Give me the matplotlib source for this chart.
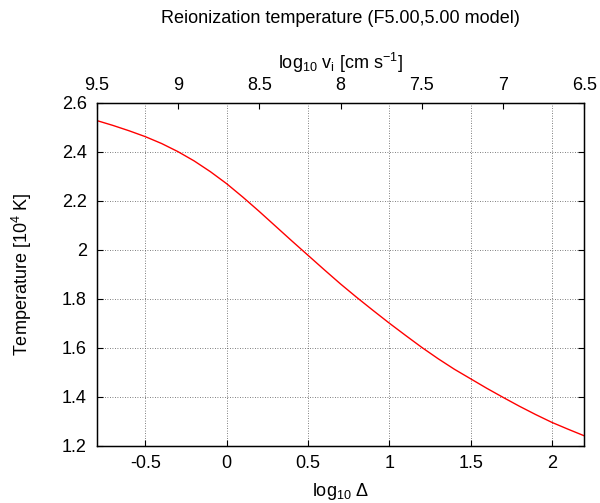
import numpy as np
import matplotlib
matplotlib.use('Agg')
import matplotlib.pyplot as plt

plt.rcParams['font.family'] = ['Liberation Sans', 'DejaVu Sans']
plt.rcParams['mathtext.fontset'] = 'custom'
plt.rcParams['mathtext.rm'] = 'Liberation Sans'
plt.rcParams['mathtext.it'] = 'Liberation Sans'
plt.rcParams['mathtext.default'] = 'regular'

# values
log_delta = [-0.8, -0.7, -0.6, -0.5, -0.4, -0.3, -0.2, -0.1, 0.0, 0.1,
             0.2, 0.3, 0.4, 0.5, 0.6, 0.7, 0.8, 0.9, 1.0, 1.1,
             1.2, 1.3, 1.4, 1.5, 1.6, 1.7, 1.8, 1.9, 2.0, 2.1, 2.2]
temp = [2.527, 2.507, 2.485, 2.461, 2.433, 2.400, 2.362, 2.318, 2.269, 2.214,
        2.156, 2.096, 2.036, 1.977, 1.918, 1.860, 1.805, 1.752, 1.700, 1.650,
        1.601, 1.555, 1.512, 1.473, 1.434, 1.397, 1.361, 1.327, 1.295, 1.267, 1.240]
xticks = [-0.5, 0, 0.5, 1, 1.5, 2]
xticklabels = ['-0.5', '0', '0.5', '1', '1.5', '2']
yticks = [1.2, 1.4, 1.6, 1.8, 2.0, 2.2, 2.4, 2.6]
yticklabels = ['1.2', '1.4', '1.6', '1.8', '2', '2.2', '2.4', '2.6']
topticks = [9.5, 9, 8.5, 8, 7.5, 7, 6.5]
toplabels = ['9.5', '9', '8.5', '8', '7.5', '7', '6.5']

fs = 13

fig = plt.figure(figsize=(6.0, 5.03), dpi=100)
ax = fig.add_axes([0.161, 0.114, 0.813, 0.682])

ax.plot(log_delta, temp, color='red', lw=1.0)
ax.set_xlim(-0.8, 2.2)
ax.set_ylim(1.2, 2.6)
ax.set_xticks(xticks)
ax.set_xticklabels(xticklabels)
ax.set_yticks(yticks)
ax.set_yticklabels(yticklabels)
ax.grid(True, color='#555555', ls=(0, (1, 2)), lw=0.6)
ax.tick_params(direction='in', length=4, width=0.8, labelsize=fs,
               right=True, top=False, pad=7)
for s in ax.spines.values():
    s.set_linewidth(1.0)

ax.set_xlabel(r'log$_{10}$ Δ', fontsize=fs, labelpad=6)
ax.set_ylabel(r'Temperature [10$^4$ K]', fontsize=fs, labelpad=20)

ax2 = ax.twiny()
ax2.set_xlim(9.5, 6.5)
ax2.set_xticks(topticks)
ax2.set_xticklabels(toplabels)
ax2.tick_params(direction='in', length=4, width=0.8, labelsize=fs, pad=6)
ax2.set_xlabel(r'log$_{10}$ v$_i$ [cm s$^{-1}$]', fontsize=fs, labelpad=6)

fig.text(0.567, 0.963, 'Reionization temperature (F5.00,5.00 model)',
         ha='center', va='center', fontsize=fs)

fig.savefig('out.png', dpi=100)
